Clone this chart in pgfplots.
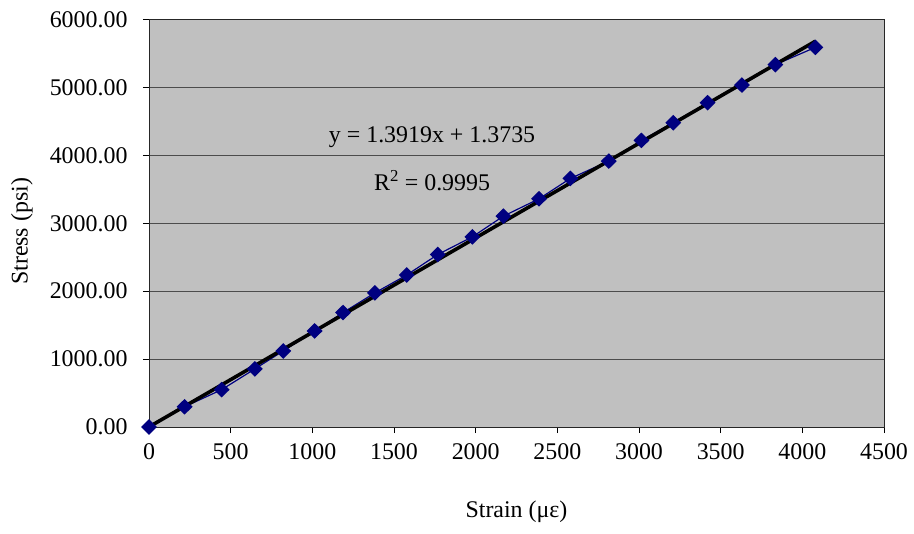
\documentclass[border=0pt]{standalone}
\usepackage{fontspec}
\setmainfont{Liberation Serif}
\usepackage{pgfplots}
\pgfplotsset{compat=1.18}
\definecolor{plotbg}{HTML}{C0C0C0}
\definecolor{navy}{HTML}{000080}
\begin{document}
\begin{tikzpicture}
\path[use as bounding box] (-149bp,-107bp) rectangle (765bp,427bp);
\begin{axis}[
  at={(0,0)}, anchor=south west,
  scale only axis, width=735bp, height=407.5bp,
  xmin=0, xmax=4500, ymin=0, ymax=6000,
  xtick={0,500,...,4500}, ytick={0,1000,...,6000},
  axis background/.style={fill=plotbg},
  axis line style={black!85, line width=0.8pt},
  ymajorgrids, grid style={black!70, line width=0.8pt},
  tick align=outside, major tick length=6bp,
  tick style={black, line width=0.8pt},
  xtick pos=bottom, ytick pos=left,
  /pgf/number format/assume math mode=true,
  xticklabel style={/pgf/number format/1000 sep={}, font=\fontsize{24}{27}\selectfont, yshift=-7bp},
  yticklabel style={/pgf/number format/.cd, fixed, fixed zerofill, precision=2, 1000 sep={}, /tikz/.cd, font=\fontsize{24}{27}\selectfont, xshift=-12bp},
  xlabel={Strain (με)},
  ylabel={Stress (psi)},
  xlabel style={at={(axis description cs:0.5,-0.209)}, anchor=center, font=\fontsize{24}{27}\selectfont},
  ylabel style={at={(axis description cs:-0.173,0.48)}, anchor=center, font=\fontsize{24}{27}\selectfont},
  clip=false,
]
\addplot[navy, line width=1.2pt, mark=diamond*, mark size=7bp, mark options={fill=navy, draw=navy, xscale=1.35}] coordinates {
(0,0) (218,298) (445,550) (648,855) (822,1120) (1014,1414) (1188,1685)
(1383,1975) (1578,2238) (1768,2540) (1980,2800) (2170,3105) (2388,3360)
(2580,3660) (2815,3915) (3015,4220) (3210,4480) (3420,4775) (3630,5035)
(3835,5335) (4080,5590)
};
\addplot[black, line width=3.6pt] coordinates {(0,1.3735) (4080,5680.3)};
\node[font=\fontsize{24}{27}\selectfont] at (axis cs:1733,4270) {y = 1.3919x + 1.3735};
\node[font=\fontsize{24}{27}\selectfont] at (axis cs:1733,3630) {R\textsuperscript{2} = 0.9995};
\end{axis}
\end{tikzpicture}
\end{document}
